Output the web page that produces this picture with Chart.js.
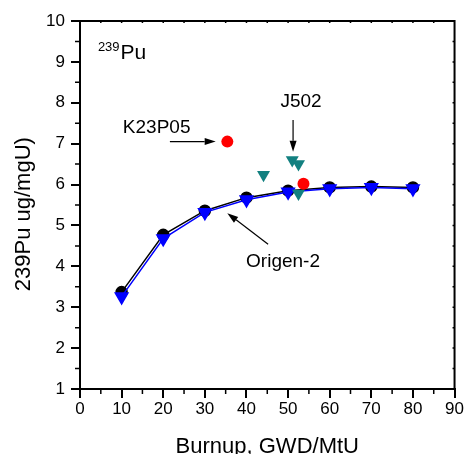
<!DOCTYPE html>
<html>
<head>
    <title>239Pu vs burnup</title>
    <style>
        body { margin: 0; background: #fff; }
    </style>
</head>
<body>
    <canvas id="chartId" width="465" height="454"></canvas>

    <script src="https://cdn.jsdelivr.net/npm/chart.js@4/dist/chart.umd.min.js"></script>

    <script>
        // Origen-2 calculations
        const burnup = [10, 20, 30, 40, 50, 60, 70, 80];
        const origenBlack = [3.37, 4.77, 5.36, 5.68, 5.85, 5.93, 5.95, 5.93];
        const origenBlue = [3.26, 4.68, 5.32, 5.63, 5.82, 5.90, 5.93, 5.90];

        // measured samples
        const k23Burnup = [35.4, 53.7];
        const k23Pu = [7.05, 6.02];
        const j502Burnup = [44.1, 51.0, 52.5, 52.5];
        const j502Pu = [6.24, 6.60, 6.50, 5.78];

        const xTicks = [0, 10, 20, 30, 40, 50, 60, 70, 80, 90];
        const yTicks = [1, 2, 3, 4, 5, 6, 7, 8, 9, 10];

        const FONT = "'Liberation Sans', Arial, sans-serif";

        function pts(xs, ys) {
            return xs.map((x, i) => ({ x: x, y: ys[i] }));
        }

        // labels and arrows, in data units
        const notes = [
            { text: 'K23P05', x: 10.3, y: 7.38, align: 'left' },
            { text: 'J502', x: 53.1, y: 8.02, align: 'center' },
            { text: 'Origen-2', x: 39.9, y: 4.10, align: 'left' }
        ];
        const arrows = [
            { from: [21.6, 7.05], to: [32.6, 7.05] },
            { from: [51.2, 7.58], to: [51.2, 6.80] },
            { from: [45.2, 4.54], to: [35.4, 5.30] }
        ];

        const decorations = {
            id: 'decorations',
            afterDraw(chart) {
                const ctx = chart.ctx;
                const xs = chart.scales.x, ys = chart.scales.y;
                const a = chart.chartArea;
                ctx.save();
                ctx.strokeStyle = '#000';
                ctx.fillStyle = '#000';

                // top and right frame
                ctx.lineWidth = 2;
                ctx.beginPath();
                ctx.moveTo(a.left, a.top);
                ctx.lineTo(a.right, a.top);
                ctx.lineTo(a.right, a.bottom);
                ctx.stroke();

                // minor ticks outside, small ticks on top/right
                ctx.lineWidth = 1.5;
                ctx.beginPath();
                for (let v = 5; v < 90; v += 10) {
                    const px = xs.getPixelForValue(v);
                    ctx.moveTo(px, a.bottom);
                    ctx.lineTo(px, a.bottom + 5);
                }
                for (let v = 1.5; v < 10; v += 1) {
                    const py = ys.getPixelForValue(v);
                    ctx.moveTo(a.left, py);
                    ctx.lineTo(a.left - 5, py);
                }
                for (let v = 5; v < 90; v += 5) {
                    const px = xs.getPixelForValue(v);
                    ctx.moveTo(px, a.top);
                    ctx.lineTo(px, a.top + 2);
                }
                for (let v = 1.5; v < 10; v += 0.5) {
                    const py = ys.getPixelForValue(v);
                    ctx.moveTo(a.right, py);
                    ctx.lineTo(a.right - 2, py);
                }
                ctx.stroke();

                // text notes
                ctx.textBaseline = 'middle';
                ctx.font = '19px ' + FONT;
                notes.forEach(n => {
                    ctx.textAlign = n.align;
                    ctx.fillText(n.text, xs.getPixelForValue(n.x), ys.getPixelForValue(n.y));
                });

                // arrows
                ctx.lineWidth = 1.2;
                arrows.forEach(ar => {
                    const x1 = xs.getPixelForValue(ar.from[0]), y1 = ys.getPixelForValue(ar.from[1]);
                    const x2 = xs.getPixelForValue(ar.to[0]), y2 = ys.getPixelForValue(ar.to[1]);
                    const ang = Math.atan2(y2 - y1, x2 - x1);
                    const hl = 11, hw = 3.5;
                    ctx.beginPath();
                    ctx.moveTo(x1, y1);
                    ctx.lineTo(x2 - Math.cos(ang) * hl, y2 - Math.sin(ang) * hl);
                    ctx.stroke();
                    ctx.beginPath();
                    ctx.moveTo(x2, y2);
                    ctx.lineTo(x2 - Math.cos(ang) * hl - Math.sin(ang) * hw, y2 - Math.sin(ang) * hl + Math.cos(ang) * hw);
                    ctx.lineTo(x2 - Math.cos(ang) * hl + Math.sin(ang) * hw, y2 - Math.sin(ang) * hl - Math.cos(ang) * hw);
                    ctx.closePath();
                    ctx.fill();
                });

                // 239Pu label
                const lx = xs.getPixelForValue(4.3), ly = ys.getPixelForValue(9.08);
                ctx.textAlign = 'left';
                ctx.textBaseline = 'alphabetic';
                ctx.font = '13px ' + FONT;
                ctx.fillText('239', lx, ly - 8);
                const w = ctx.measureText('239').width;
                ctx.font = '21px ' + FONT;
                ctx.fillText('Pu', lx + w + 1, ly);
                ctx.restore();
            }
        };

        const chrt = document.getElementById('chartId').getContext('2d');
        const chartId = new Chart(chrt, {
            type: 'scatter',
            data: {
                datasets: [{
                    label: 'Origen-2 (1)',
                    data: pts(burnup, origenBlack),
                    showLine: true,
                    borderColor: '#000',
                    backgroundColor: '#000',
                    borderWidth: 1.5,
                    pointStyle: 'circle',
                    pointRadius: 5.5,
                    order: 4
                }, {
                    label: 'Origen-2 (2)',
                    data: pts(burnup, origenBlue),
                    showLine: true,
                    borderColor: '#0000ff',
                    backgroundColor: '#0000ff',
                    borderWidth: 1.5,
                    pointStyle: 'triangle',
                    pointRotation: 180,
                    pointRadius: 7.3,
                    order: 3
                }, {
                    label: 'J502',
                    data: pts(j502Burnup, j502Pu),
                    borderColor: '#128080',
                    backgroundColor: '#128080',
                    pointStyle: 'triangle',
                    pointRotation: 180,
                    pointRadius: 7.5,
                    borderWidth: 0,
                    order: 2
                }, {
                    label: 'K23P05',
                    data: pts(k23Burnup, k23Pu),
                    borderColor: '#ff0000',
                    backgroundColor: '#ff0000',
                    pointRadius: 6,
                    borderWidth: 0,
                    order: 1
                }]
            },
            options: {
                responsive: false,
                animation: false,
                layout: {
                    autoPadding: false,
                    padding: { top: 21, right: 10, left: 0, bottom: 0 }
                },
                scales: {
                    x: {
                        type: 'linear',
                        position: 'bottom',
                        min: 0,
                        max: 90,
                        afterFit: s => { s.height = 65; },
                        afterBuildTicks: s => { s.ticks = xTicks.map(v => ({ value: v })); },
                        border: { display: true, color: '#000', width: 2 },
                        grid: { drawOnChartArea: false, drawTicks: true, tickLength: 9, color: '#000', lineWidth: 2 },
                        ticks: { color: '#000', padding: 1, maxRotation: 0, font: { family: FONT, size: 17 } },
                        title: {
                            display: true,
                            text: 'Burnup, GWD/MtU',
                            color: '#000',
                            font: { family: FONT, size: 22, lineHeight: 1 },
                            padding: { top: 0, bottom: -4 }
                        }
                    },
                    y: {
                        type: 'linear',
                        min: 1,
                        max: 10,
                        afterFit: s => { s.width = 80; },
                        afterBuildTicks: s => { s.ticks = yTicks.map(v => ({ value: v })); },
                        border: { display: true, color: '#000', width: 2 },
                        grid: { drawOnChartArea: false, drawTicks: true, tickLength: 9, color: '#000', lineWidth: 2 },
                        ticks: { color: '#000', padding: 6, font: { family: FONT, size: 17 } },
                        title: {
                            display: true,
                            // trailing spaces nudge the title down a little, like the original
                            text: '239Pu ug/mgU)   ',
                            color: '#000',
                            font: { family: FONT, size: 22, lineHeight: 1 },
                            padding: { top: 13, bottom: 0 }
                        }
                    }
                },
                plugins: {
                    legend: { display: false },
                    tooltip: { enabled: false }
                }
            },
            plugins: [decorations]
        });
    </script>
</body>
</html>
